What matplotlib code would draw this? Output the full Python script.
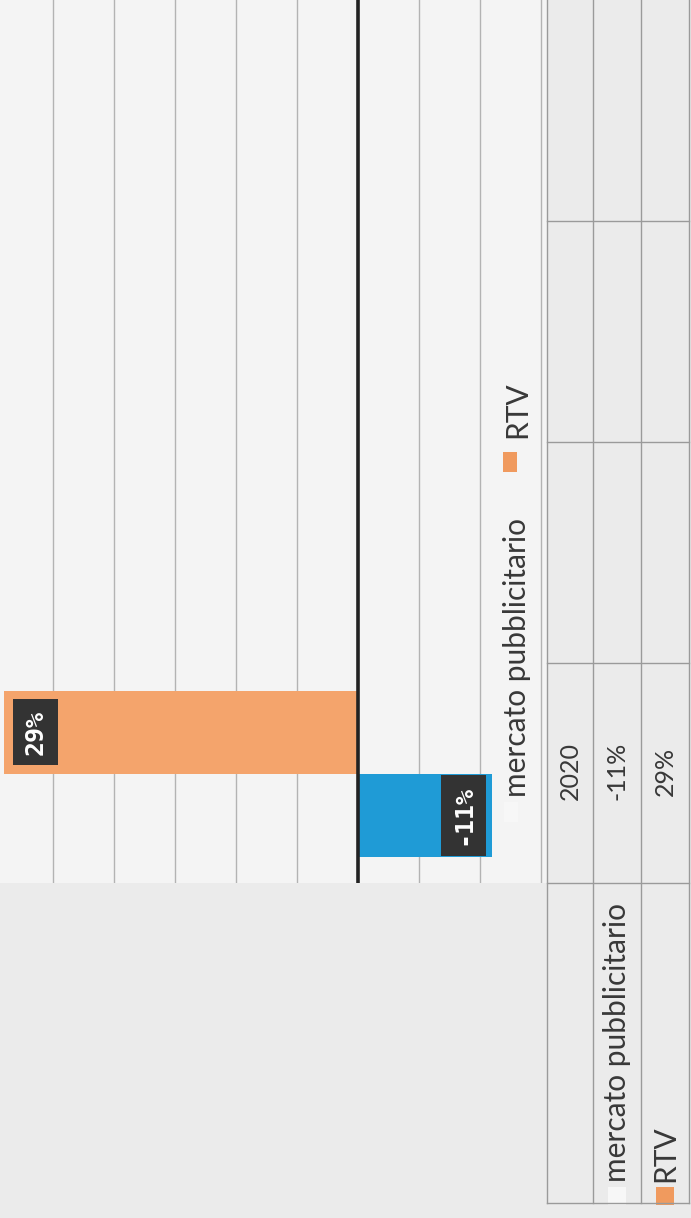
import matplotlib.pyplot as plt
from matplotlib.patches import Rectangle
from matplotlib.transforms import blended_transform_factory

# dati (grafico fotografato ruotato di 90 gradi)
series = ['mercato pubblicitario', 'RTV']
values = [-11, 29]
colors = ['#1f9bd6', '#f4a46c']
key_colors = ['#f7f7f7', '#f09a5e']
year_labels = ['2020']
value_labels = ['-11%', '29%']
grid_ticks = [-15, -10, -5, 5, 10, 15, 20, 25]

plt.rcParams['font.family'] = ['Lato', 'DejaVu Sans']

W, H = 691, 1218
fig = plt.figure(figsize=(W / 100, H / 100), dpi=100)
fig.patch.set_facecolor('#ebebeb')


def fx(px):
    return px / W


def fy(py):
    return 1 - py / H


# area del grafico
ax = fig.add_axes([0, fy(883), fx(547), 883 / H])
ax.set_facecolor('#f4f4f4')
ax.set_xlim(29.34, -15.49)
ax.set_ylim(-0.494, 3.50)
for s in ax.spines.values():
    s.set_visible(False)
ax.set_xticks(grid_ticks)
ax.set_yticks([])
ax.tick_params(length=0, labelbottom=False)
ax.grid(axis='x', color='#b3b3b3', linewidth=1.0)
ax.set_axisbelow(True)
ax.axvline(0, color='#222222', linewidth=2.6, zorder=3)

bar_h = 0.376
offsets = [-bar_h / 2, bar_h / 2]
for i, (name, v) in enumerate(zip(series, values)):
    ax.barh(0 + offsets[i], v, height=bar_h, color=colors[i], zorder=2)
    # etichetta scura all'estremita' interna
    shift = 31 if v > 0 else -29
    ax.annotate(value_labels[i], (v, offsets[i]), xytext=(shift, 0),
                textcoords='offset pixels', rotation=90, ha='center', va='center',
                color='white', fontsize=18, fontweight='bold',
                family='DejaVu Sans Mono', zorder=5,
                bbox=dict(boxstyle='square,pad=0.42', fc='#333333', ec='none'))

# legenda (testo ruotato)
fig.text(fx(517), fy(797), series[0], rotation=90, ha='center', va='bottom',
         fontsize=21.5, color='#383838')
fig.patches.append(Rectangle((fx(504), fy(822)), 14 / W, 20 / H,
                             transform=fig.transFigure, fc=key_colors[0], ec='none'))
fig.text(fx(517), fy(438), series[1], rotation=90, ha='center', va='bottom',
         fontsize=21.5, color='#383838')
fig.patches.append(Rectangle((fx(503), fy(472)), 14 / W, 20 / H,
                             transform=fig.transFigure, fc=key_colors[1], ec='none'))

# tabella dati
tr = blended_transform_factory(fig.transFigure, ax.transData)
line_kw = dict(color='#9a9a9a', linewidth=1.0, clip_on=False)
for xp in [547, 593, 641, 689]:
    fig.add_artist(plt.Line2D([fx(xp), fx(xp)], [fy(0), fy(1203)],
                              transform=fig.transFigure, **line_kw))
for b in [0.5, 1.5, 2.5]:
    fig.add_artist(plt.Line2D([fx(547), fx(689)], [b, b], transform=tr, **line_kw))
fig.add_artist(plt.Line2D([fx(547), fx(689)], [fy(883), fy(883)],
                          transform=fig.transFigure, **line_kw))
fig.add_artist(plt.Line2D([fx(547), fx(689)], [fy(1203), fy(1203)],
                          transform=fig.transFigure, **line_kw))

fig.text(fx(570), fy(771), year_labels[0], rotation=90, ha='center',
         va='center', fontsize=18, color='#383838')
row_x = [617, 665]
for i, name in enumerate(series):
    fig.text(fx(row_x[i]), fy(771), value_labels[i], rotation=90,
             ha='center', va='center', fontsize=18, color='#383838')
    fig.text(fx(row_x[i]), fy(1182), name, rotation=90, ha='center', va='bottom',
             fontsize=21.5, color='#383838')
    fig.patches.append(Rectangle((fx(row_x[i] - 9), fy(1205)), 18 / W, 18 / H,
                                 transform=fig.transFigure, fc=key_colors[i], ec='none'))

fig.savefig('out.png', dpi=100, facecolor=fig.get_facecolor())
